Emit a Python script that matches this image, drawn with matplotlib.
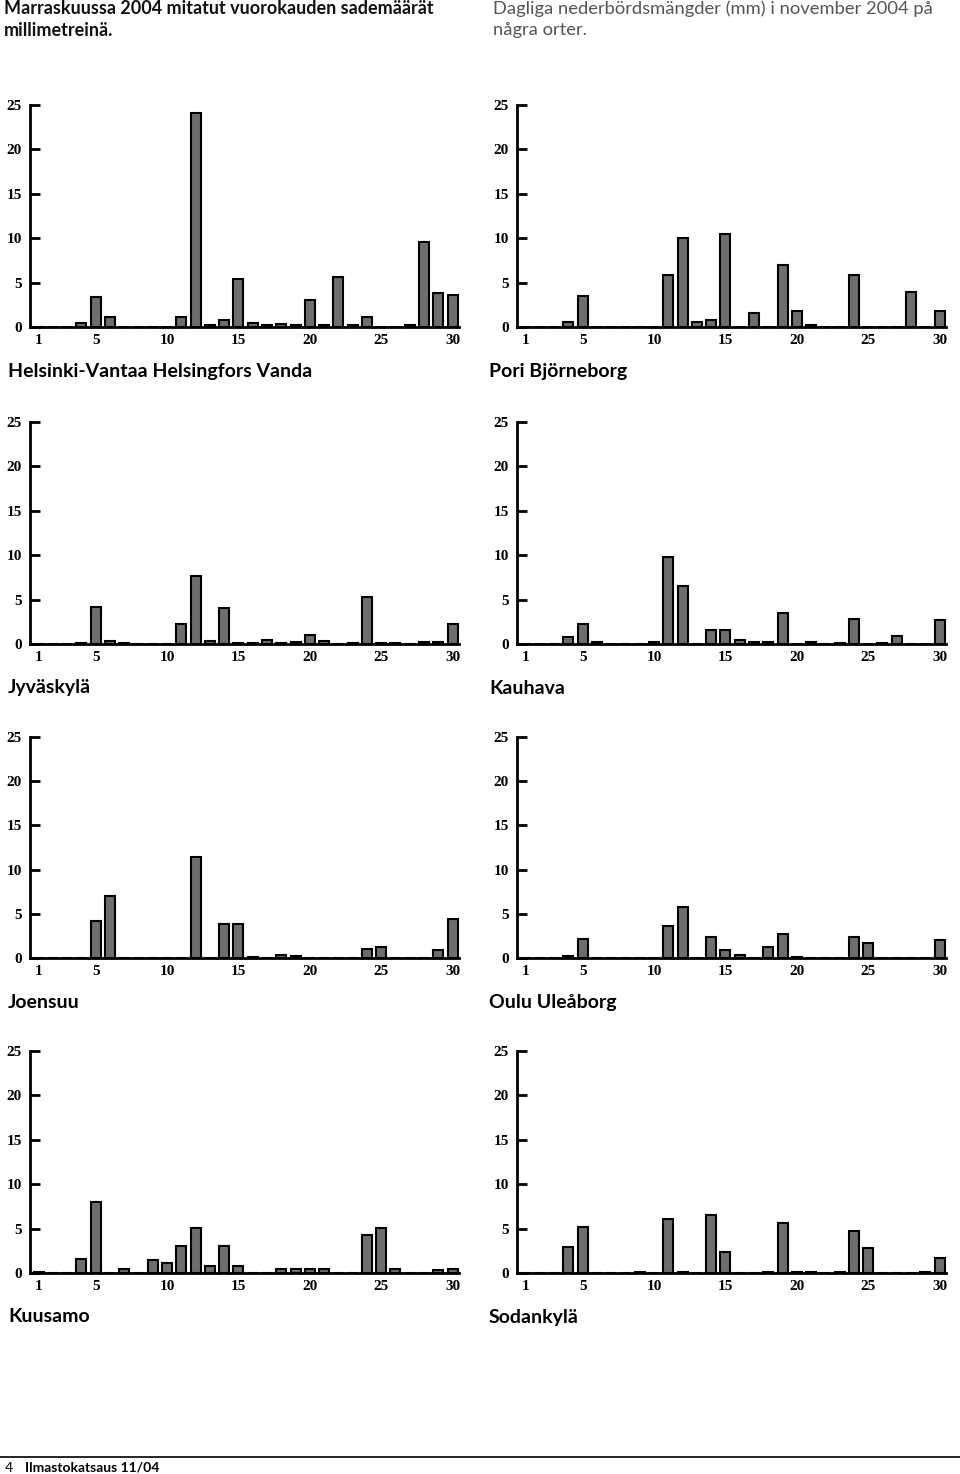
import matplotlib.pyplot as plt

# daily precipitation (mm), November 2004
days = list(range(1, 31))
xtick_days = [1, 5, 10, 15, 20, 25, 30]
ytick_vals = [0, 5, 10, 15, 20, 25]

helsinki = [0, 0, 0, 0.5, 3.4, 1.1, 0, 0, 0, 0, 1.1, 24.1, 0.2, 0.8, 5.4,
            0.4, 0.2, 0.3, 0.2, 3.0, 0.2, 5.6, 0.2, 1.1, 0, 0, 0.2, 9.6, 3.8, 3.6]
pori = [0, 0, 0, 0.6, 3.5, 0, 0, 0, 0, 0, 5.8, 10.0, 0.6, 0.8, 10.5,
        0, 1.6, 0, 7.0, 1.8, 0.2, 0, 0, 5.8, 0, 0, 0, 3.9, 0, 1.8]
jyvaskyla = [0, 0, 0, 0.1, 4.2, 0.3, 0.1, 0, 0, 0, 2.3, 7.7, 0.3, 4.1, 0.1,
             0.1, 0.45, 0.1, 0.25, 1.05, 0.35, 0, 0.1, 5.3, 0.1, 0.1, 0, 0.25, 0.25, 2.25]
kauhava = [0, 0, 0, 0.8, 2.3, 0.2, 0, 0, 0, 0.2, 9.85, 6.5, 0, 1.55, 1.6,
           0.5, 0.2, 0.2, 3.45, 0, 0.2, 0, 0.1, 2.8, 0, 0.1, 0.9, 0, 0, 2.75]
joensuu = [0, 0, 0, 0.1, 4.25, 7.05, 0.1, 0, 0, 0, 0.1, 11.45, 0.1, 3.85, 3.85,
           0.2, 0, 0.4, 0.3, 0, 0, 0, 0, 1.1, 1.3, 0.1, 0, 0, 0.95, 4.5]
oulu = [0, 0, 0, 0.3, 2.15, 0, 0, 0, 0.1, 0, 3.7, 5.8, 0, 2.45, 0.95,
        0.4, 0.1, 1.3, 2.8, 0.2, 0.1, 0.1, 0.1, 2.45, 1.75, 0, 0, 0, 0, 2.05]
kuusamo = [0.1, 0, 0, 1.55, 8.05, 0, 0.5, 0, 1.45, 1.1, 3.05, 5.05, 0.75, 3.05, 0.75,
           0, 0, 0.5, 0.5, 0.5, 0.45, 0, 0, 4.3, 5.05, 0.5, 0, 0, 0.35, 0.45]
sodankyla = [0, 0, 0, 2.95, 5.15, 0, 0, 0, 0.1, 0, 6.05, 0.1, 0, 6.55, 2.35,
             0, 0, 0.1, 5.65, 0.1, 0.1, 0, 0.1, 4.75, 2.8, 0, 0, 0, 0.1, 1.65]

stations = [
    ("Helsinki-Vantaa Helsingfors Vanda", helsinki),
    ("Pori Björneborg", pori),
    ("Jyväskylä", jyvaskyla),
    ("Kauhava", kauhava),
    ("Joensuu", joensuu),
    ("Oulu Uleåborg", oulu),
    ("Kuusamo", kuusamo),
    ("Sodankylä", sodankyla),
]

W, H = 960, 1474
fig = plt.figure(figsize=(W / 100, H / 100), dpi=100)

col_x = [(30, 459), (517, 946)]
zero_y = [327, 644, 958.5, 1273]
panel_h = 222
label_x = [8, 489]

tick_font = dict(family="Liberation Serif", weight="bold", size=11)

for i, (name, vals) in enumerate(stations):
    row, col = divmod(i, 2)
    x0, x1 = col_x[col]
    yb = zero_y[row]
    ax = fig.add_axes([x0 / W, 1 - yb / H, (x1 - x0) / W, panel_h / H])
    ax.bar(days, vals, width=0.7, color="#6e6e6e", edgecolor="black",
           linewidth=1.5, zorder=3, clip_on=False)
    ax.set_xlim(0.4, 30.45)
    ax.set_ylim(0, 25)
    for s in ("top", "right"):
        ax.spines[s].set_visible(False)
    for s in ("left", "bottom"):
        ax.spines[s].set_linewidth(2)
        ax.spines[s].set_zorder(4)
    ax.set_yticks(ytick_vals)
    ax.set_xticks(xtick_days)
    ax.tick_params(axis="y", direction="in", length=7, width=2, pad=6)
    ax.tick_params(axis="x", length=0, pad=5)
    for lab in ax.get_xticklabels() + ax.get_yticklabels():
        lab.set_fontfamily(tick_font["family"])
        lab.set_fontweight(tick_font["weight"])
        lab.set_fontsize(tick_font["size"])
    ax.patch.set_alpha(0)
    fig.text(label_x[col] / W, 1 - (yb + 44) / H, name, fontsize=14,
             fontweight="bold", family="Lato", ha="left", va="center")

# header
fig.text(4 / W, 1 - 9 / H, "Marraskuussa 2004 mitatut vuorokauden sademäärät",
         fontsize=13, fontweight="bold", family="Lato", va="center", color="#111111")
fig.text(4 / W, 1 - 30 / H, "millimetreinä.",
         fontsize=13, fontweight="bold", family="Lato", va="center", color="#111111")
fig.text(493 / W, 1 - 9 / H, "Dagliga nederbördsmängder (mm) i november 2004 på",
         fontsize=13.2, family="Lato", va="center", color="#555555")
fig.text(493 / W, 1 - 30 / H, "några orter.",
         fontsize=13.2, family="Lato", va="center", color="#555555")

# footer
fig.add_artist(plt.Line2D([0, 1], [1 - 1457 / H, 1 - 1457 / H], color="black", lw=1.2))
fig.text(5 / W, 1 - 1468 / H, "4", fontsize=10, family="Lato", va="center")
fig.text(25 / W, 1 - 1468 / H, "Ilmastokatsaus 11/04", fontsize=10,
         fontweight="bold", family="Lato", va="center")

fig.savefig("out.png", dpi=100)
